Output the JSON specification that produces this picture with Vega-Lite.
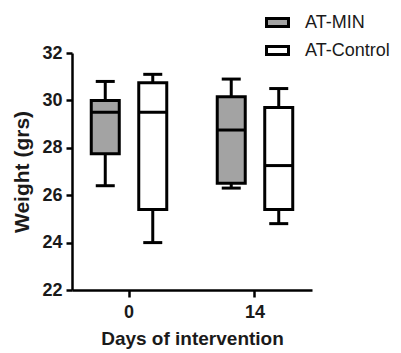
{
  "$schema": "https://vega.github.io/schema/vega-lite/v6.json",
  "width": 240,
  "height": 237,
  "autosize": "none",
  "padding": {"left": 72, "top": 53, "right": 89, "bottom": 63},
  "background": "white",
  "config": {
    "view": {"stroke": null},
    "font": "Liberation Sans"
  },
  "data": {
    "values": [
      {"day": "0", "group": "AT-MIN", "lower": 26.4, "q1": 27.75, "median": 29.5, "q3": 30.0, "upper": 30.8},
      {"day": "0", "group": "AT-Control", "lower": 24.0, "q1": 25.4, "median": 29.5, "q3": 30.75, "upper": 31.1},
      {"day": "14", "group": "AT-MIN", "lower": 26.3, "q1": 26.5, "median": 28.75, "q3": 30.15, "upper": 30.9},
      {"day": "14", "group": "AT-Control", "lower": 24.8, "q1": 25.4, "median": 27.25, "q3": 29.7, "upper": 30.5}
    ]
  },
  "encoding": {
    "x": {
      "field": "day",
      "type": "nominal",
      "sort": ["0", "14"],
      "title": "Days of intervention",
      "scale": {"paddingInner": 0.2, "paddingOuter": 0.0525},
      "axis": {
        "labelAngle": 0,
        "domainColor": "black",
        "domainWidth": 2.5,
        "tickColor": "black",
        "tickWidth": 2.5,
        "tickSize": 7,
        "labelFont": "Liberation Sans",
        "labelFontSize": 18,
        "labelFontWeight": "bold",
        "labelColor": "#1a1a1a",
        "labelPadding": 6,
        "titleFont": "Liberation Sans",
        "titleFontSize": 19,
        "titleFontWeight": "bold",
        "titleColor": "#1a1a1a",
        "titlePadding": 8
      }
    },
    "xOffset": {
      "field": "group",
      "type": "nominal",
      "sort": ["AT-MIN", "AT-Control"],
      "scale": {"paddingInner": 0, "paddingOuter": 0.061}
    }
  },
  "layer": [
    {
      "mark": {"type": "rule", "color": "black", "strokeWidth": 3},
      "encoding": {
        "y": {
          "field": "lower",
          "type": "quantitative",
          "title": "Weight (grs)",
          "scale": {"domain": [22, 32], "nice": false, "zero": false},
          "axis": {
            "values": [22, 24, 26, 28, 30, 32],
            "grid": false,
            "domainColor": "black",
            "domainWidth": 2.5,
            "tickColor": "black",
            "tickWidth": 2.5,
            "tickSize": 6,
            "labelFont": "Liberation Sans",
            "labelFontSize": 18,
            "labelFontWeight": "bold",
            "labelColor": "#1a1a1a",
            "labelPadding": 4,
            "titleFont": "Liberation Sans",
            "titleFontSize": 21,
            "titleFontWeight": "bold",
            "titleColor": "#1a1a1a",
            "titlePadding": 9
          }
        },
        "y2": {"field": "upper"}
      }
    },
    {
      "mark": {"type": "tick", "color": "black", "thickness": 3, "size": 19, "opacity": 1},
      "encoding": {"y": {"field": "lower", "type": "quantitative"}}
    },
    {
      "mark": {"type": "tick", "color": "black", "thickness": 3, "size": 19, "opacity": 1},
      "encoding": {"y": {"field": "upper", "type": "quantitative"}}
    },
    {
      "mark": {"type": "bar", "width": 28, "stroke": "black", "strokeWidth": 3, "opacity": 1},
      "encoding": {
        "y": {"field": "q1", "type": "quantitative"},
        "y2": {"field": "q3"},
        "fill": {
          "field": "group",
          "type": "nominal",
          "sort": ["AT-MIN", "AT-Control"],
          "scale": {"domain": ["AT-MIN", "AT-Control"], "range": ["#a3a3a3", "#ffffff"]},
          "legend": {
            "title": null,
            "orient": "none",
            "legendX": 193,
            "legendY": -43,
            "symbolType": "M-1,-0.36H1V0.36H-1Z",
            "symbolSize": 484,
            "symbolStrokeColor": "black",
            "symbolStrokeWidth": 3,
            "labelFont": "Liberation Sans",
            "labelFontSize": 18,
            "labelColor": "#1a1a1a",
            "labelOffset": 15,
            "rowPadding": 5
          }
        }
      }
    },
    {
      "mark": {"type": "tick", "color": "black", "thickness": 3, "size": 28, "opacity": 1},
      "encoding": {"y": {"field": "median", "type": "quantitative"}}
    }
  ]
}
